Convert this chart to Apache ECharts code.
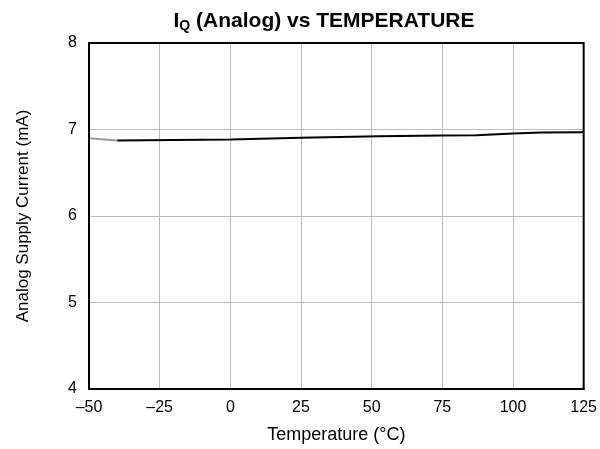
<!DOCTYPE html>
<html><head><meta charset="utf-8">
<script src="https://cdn.jsdelivr.net/npm/echarts@6/dist/echarts.min.js"></script>
<style>html,body{margin:0;padding:0;background:#fff;overflow:hidden}#c{width:600px;height:449px}</style>
</head><body><div id="c"></div>
<script>
const grayTemps = [-50, -40];
const grayValues = [6.898, 6.872];
const temps = [-40, 0, 25, 52.5, 75, 87, 100, 110, 125];
const values = [6.872, 6.884, 6.905, 6.922, 6.932, 6.934, 6.955, 6.964, 6.969];
const xTicks = [-50, -25, 0, 25, 50, 75, 100, 125];
const yTicks = [4, 5, 6, 7, 8];

const F = '"Liberation Sans", Arial, sans-serif';
const chart = echarts.init(document.getElementById('c'));
chart.setOption({
  animation: false,
  title: {
    text: '{b|I}{s|Q}{b| (Analog) vs TEMPERATURE}',
    left: 319, top: 5, textAlign: 'center',
    textStyle: {
      rich: {
        b: {fontFamily: F, fontWeight: 'bold', fontSize: 21, color: '#000'},
        s: {fontFamily: F, fontWeight: 'bold', fontSize: 14, color: '#000', padding: [9, 0, 0, 0]}
      }
    }
  },
  grid: {left: 89, right: 14, top: 43, bottom: 53, show: true, borderColor: '#000', borderWidth: 2, z: 10},
  xAxis: {
    type: 'value', min: xTicks[0], max: xTicks[xTicks.length - 1], interval: 25,
    name: 'Temperature (°C)', nameLocation: 'middle', nameGap: 37,
    nameTextStyle: {fontFamily: F, fontSize: 18, color: '#000'},
    axisLine: {show: true, onZero: false, lineStyle: {color: '#000', width: 2}},
    axisTick: {show: false},
    axisLabel: {fontFamily: F, fontSize: 16, color: '#000', margin: 11,
      formatter: v => String(v).replace('-', '\u2013')},
    splitLine: {show: true, lineStyle: {color: '#bdbdbd', width: 1}}
  },
  yAxis: {
    type: 'value', min: yTicks[0], max: yTicks[yTicks.length - 1], interval: 1,
    name: 'Analog Supply Current (mA)', nameLocation: 'middle', nameGap: 57,
    nameTextStyle: {fontFamily: F, fontSize: 17, color: '#000'},
    axisLine: {show: true, onZero: false, lineStyle: {color: '#000', width: 2}},
    axisTick: {show: false},
    axisLabel: {fontFamily: F, fontSize: 16, color: '#000', margin: 12},
    splitLine: {show: true, lineStyle: {color: '#bdbdbd', width: 1}}
  },
  series: [
    {type: 'line', data: grayTemps.map((t, i) => [t, grayValues[i]]), showSymbol: false,
     lineStyle: {color: '#999', width: 2}, z: 3},
    {type: 'line', data: temps.map((t, i) => [t, values[i]]), showSymbol: false,
     lineStyle: {color: '#000', width: 2}, z: 4}
  ]
});
</script></body></html>
